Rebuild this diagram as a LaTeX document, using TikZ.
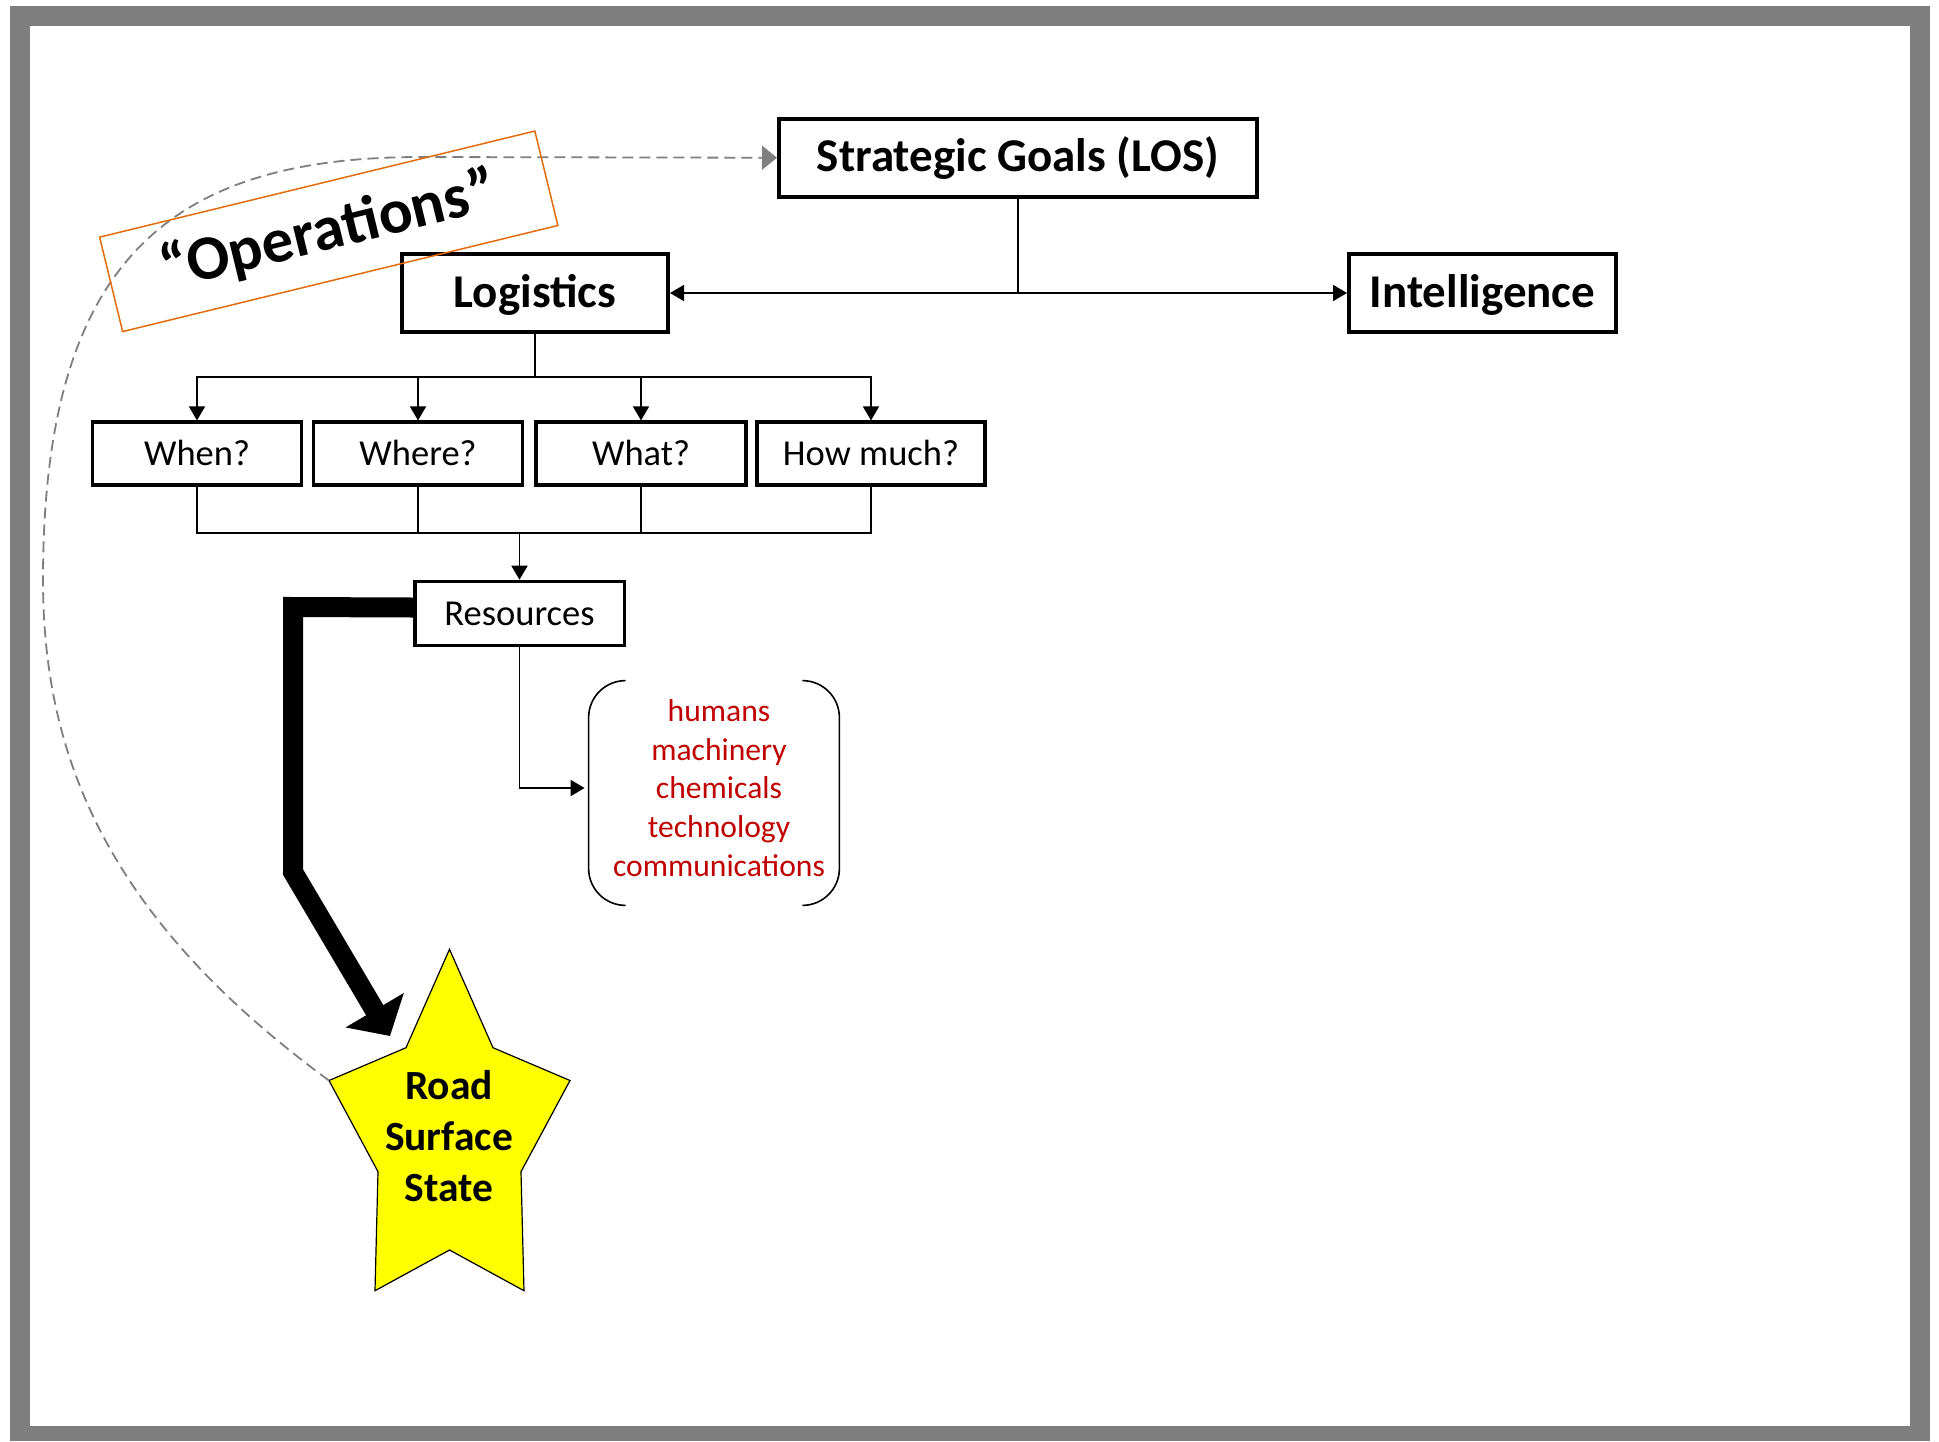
\documentclass[tikz,border=0pt]{standalone}
\usepackage{fontspec}
\setmainfont{Carlito}
\usetikzlibrary{arrows.meta,calc}
\definecolor{framegray}{RGB}{127,127,127}
\definecolor{opsorange}{RGB}{228,108,10}
\definecolor{listred}{RGB}{192,0,0}
\definecolor{staryellow}{RGB}{255,255,0}
\newcommand\fsz[2]{\fontsize{#1}{#2}\selectfont}

\begin{document}
\begin{tikzpicture}[x=0.5pt,y=-0.5pt,
  every node/.style={inner sep=0pt},
  mainbox/.style={draw, line width=2pt, minimum width=#1, minimum height=39pt,
    text height=18.8pt, text depth=4.8pt, font=\fsz{23.5pt}{28pt}\bfseries},
  qbox/.style={draw, line width=1.8pt, minimum width=#1, minimum height=31.5pt,
    text height=14.6pt, text depth=2.4pt, font=\fsz{18.25pt}{22pt}},
  link/.style={line width=0.9pt},
  conn/.style={link, -{Triangle[length=7pt,width=8pt]}},
  heavy/.style={line width=10pt, line join=miter, -{Triangle[length=15pt,width=33pt]}},
  dashlink/.style={draw=framegray, line width=0.9pt, dash pattern=on 5.5pt off 3pt,
    -{Triangle[length=7.5pt,width=12pt]}},
  bracket/.style={line width=0.8pt, rounded corners=18.5pt},
  opsbox/.style={draw=opsorange, line width=0.75pt, rotate=13.7,
    minimum width=224pt, minimum height=48.6pt, font=\fsz{31.5pt}{36pt}\bfseries},
  starshape/.style={draw, line width=0.6pt, fill=staryellow, line join=miter},
  startext/.style={align=center, font=\fsz{20.75pt}{25.4pt}\bfseries},
  listtext/.style={align=center, text=listred, font=\fsz{15.8pt}{19.3pt}}
]
% slide frame
\fill[white] (0,0) rectangle (1939,1441);
\fill[framegray] (10,6) rectangle (1930,1441);
\fill[white] (30,26) rectangle (1910,1426);
\useasboundingbox (0,0) rectangle (1939,1441);

% top level
\node[mainbox=239pt, minimum height=38.75pt] (strat) at (1018,157.75) {Strategic Goals (LOS)};
\node[mainbox=133pt] (logi) at (535,293) {Logistics};
\node[mainbox=133.5pt] (intel) at (1482.5,293) {Intelligence};

% questions
\node[qbox=104.6pt] (when) at (197,453.7) {When?};
\node[qbox=104.6pt] (where) at (418,453.7) {Where?};
\node[qbox=105pt] (what) at (641,453.7) {What?};
\node[qbox=114pt] (howmuch) at (871,453.7) {How much?};
\node[qbox=104.8pt, minimum height=32pt] (res) at (519.5,613.5) {Resources};

% resource list in brackets
\node[minimum width=125pt, minimum height=112pt] (kit) at (714,793) {};
\node[listtext] (kitlist) at (719,788) {humans\\machinery\\chemicals\\technology\\communications};
\draw[bracket] ($(kit.north west)+(37,0)$) -- (kit.north west) -- (kit.south west) -- ($(kit.south west)+(37,0)$);
\draw[bracket] ($(kit.north east)+(-37,0)$) -- (kit.north east) -- (kit.south east) -- ($(kit.south east)+(-37,0)$);

% connectors
\draw[conn] (strat.south) |- (logi.east);
\draw[conn] (strat.south) |- (intel.west);
\draw[link] (logi.south) -- ++(0,43) coordinate (bus1);
\foreach \q in {when,where,what,howmuch} \draw[conn] (bus1) -| (\q.north);
\draw[link] (when.south) -- ++(0,46) -| (howmuch.south);
\draw[link] (where.south) -- ++(0,46);
\draw[link] (what.south) -- ++(0,46);
\path (res.north) ++(0,-46) coordinate (bus2);
\draw[conn] (bus2) -- (res.north);
\draw[conn, shorten >=2pt] (res.south) |- ([yshift=2.5pt]kit.west);

% star
\draw[starshape] (449.5,949.3) coordinate (sTop) -- (493,1047.7) -- (570,1080.5) coordinate (sRight)
  -- (521,1171.7) -- (524,1290.7) -- (449.5,1250) -- (375,1290.7) -- (378,1171.7)
  -- (329,1080.5) coordinate (sLeft) -- (406,1047.7) -- cycle;
\node[startext] (rss) at (449,1136) {Road\\Surface\\State};

% heavy arrow from resources to the road surface
\coordinate (hbend1) at (293,607);
\coordinate (hbend2) at (293,872);
\coordinate (hend) at (390,1036);
\draw[heavy] ([yshift=3pt]res.west) -- (hbend1) -- (hbend2) -- (hend);

% feedback loop
\draw[dashlink] (sLeft) .. controls (110,920) and (43,760) .. (43,580)
  .. controls (43,260) and (170,157) .. (421,157) -- (strat.west);

% operations label
\node[opsbox] (ops) at (328.75,231.3) {“Operations”};
\end{tikzpicture}
\end{document}
